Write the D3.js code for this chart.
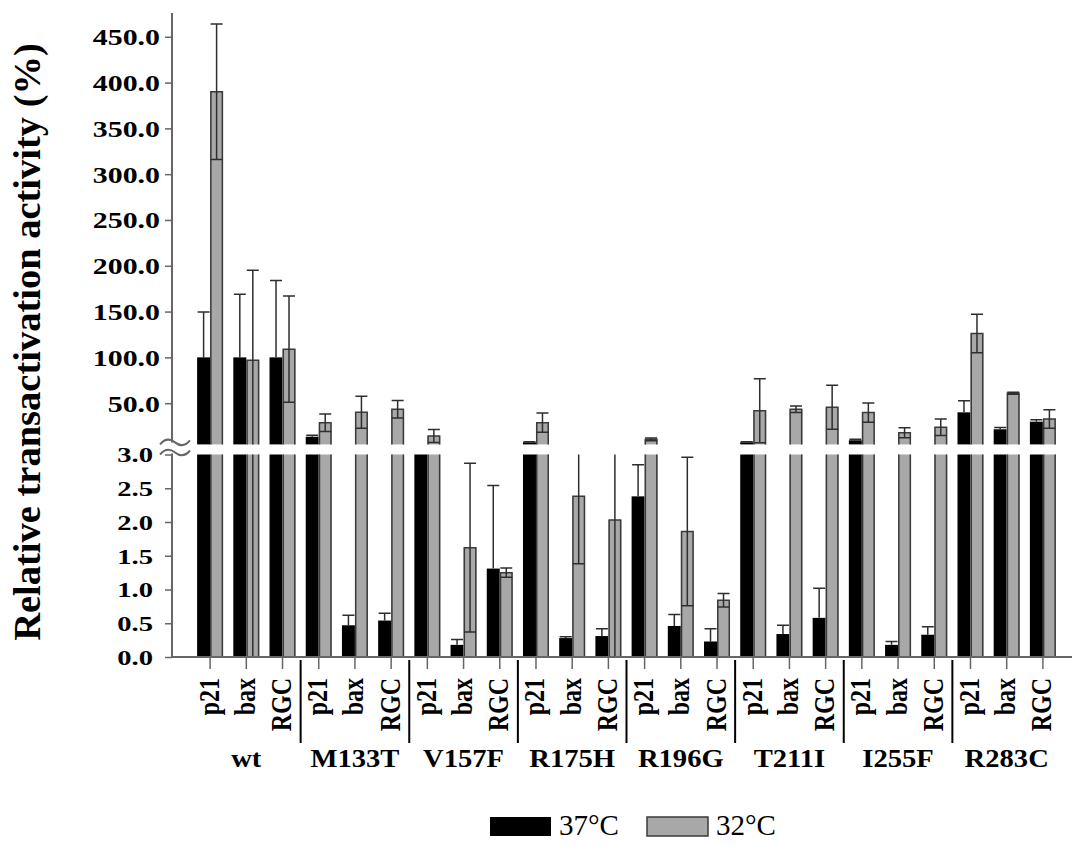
<!DOCTYPE html>
<html><head><meta charset="utf-8">
<script src="https://cdn.jsdelivr.net/npm/d3@7"></script>
<style>
body{margin:0;background:#fff}
svg{display:block}
text{font-family:"Liberation Serif","Times New Roman",serif;fill:#000}
</style>
</head><body>
<svg id="c" width="1087" height="852"></svg>
<script>
// ---------- data ----------
const groups = ["wt","M133T","V157F","R175H","R196G","T211I","I255F","R283C"];
const genes = ["p21","bax","RGC"];
const temps = ["37°C","32°C"];
// 37°C means and SD (order: group × gene)
const v37 = [100,100,100, 13.4,0.47,0.54, 4.2,0.18,1.31, 7.3,0.28,0.31, 2.38,0.46,0.23, 7.3,0.34,0.58, 9.5,0.18,0.33, 40,21.5,29.8];
const e37 = [49.6,69,84, 1.5,0.15,0.11, 0.5,0.08,1.23, 0.5,0.02,0.11, 0.47,0.17,0.19, 0.5,0.13,0.44, 1.2,0.05,0.12, 12.7,2,2];
// 32°C means and SD
const v32 = [390,97,109, 28.7,40,43.3, 14.2,1.62,1.25, 28.7,2.38,2.03, 10.6,1.86,0.84, 41.8,43.3,45.5, 39.7,17.8,23.7, 126,60.8,32.7];
const e32 = [74,98,58, 9.5,17.5,9.5, 7,1.25,0.07, 10.5,1.0,2.2, 1.5,1.1,0.1, 35,3.5,24, 10.5,5.5,9, 21,1,10];
const upperTicks = [50,100,150,200,250,300,350,400,450];
const lowerTicks = [0,0.5,1.0,1.5,2.0,2.5,3.0];
const yTitle = "Relative transactivation activity (%)";

// ---------- layout ----------
const svg = d3.select("#c");
const keys = groups.flatMap(g => genes.map(n => g + "|" + n));
const x = d3.scaleBand().domain(keys).range([192, 1061]);
const xt = d3.scaleBand().domain(temps).range([-13, 13]);
const yLow = d3.scaleLinear().domain([0, 3]).range([657, 454.5]);
const yHigh = d3.scaleLinear().domain([5, 473]).range([444.4, 15.7]);
const fill = d3.scaleOrdinal().domain(temps).range(["#000000", "#a8a8a8"]);
const edge = d3.scaleOrdinal().domain(temps).range(["#000000", "#3a3a3a"]);
const AX = 172, BASE = 657;

const rows = [];
keys.forEach((k, i) => {
  rows.push({k, t: temps[0], v: v37[i], e: e37[i]});
  rows.push({k, t: temps[1], v: v32[i], e: e32[i]});
});

const cx = d => x(d.k) + x.bandwidth() / 2 + xt(d.t) + xt.bandwidth() / 2;
const bw = xt.bandwidth();

// bars: segment pieces
const pieces = [];
rows.forEach(d => {
  const lowTop = Math.min(d.v, 3);
  pieces.push({d, y0: yLow(0), y1: yLow(lowTop), topEdge: d.v <= 3});
  if (d.v > 5) pieces.push({d, y0: yHigh(5), y1: yHigh(d.v), topEdge: true});
});

const gBars = svg.append("g");
gBars.selectAll("rect").data(pieces).join("rect")
  .attr("x", p => cx(p.d) - bw / 2)
  .attr("width", bw)
  .attr("y", p => p.y1)
  .attr("height", p => p.y0 - p.y1)
  .attr("fill", p => fill(p.d.t));
gBars.selectAll("path.edge").data(pieces.filter(p => p.d.t === temps[1])).join("path")
  .attr("class", "edge")
  .attr("d", p => {
    const l = cx(p.d) - bw / 2 + 0.75, r = cx(p.d) + bw / 2 - 0.75;
    return p.topEdge ? `M${l},${p.y0}V${p.y1}H${r}V${p.y0}` : `M${l},${p.y0}V${p.y1}M${r},${p.y0}V${p.y1}`;
  })
  .attr("fill", "none").attr("stroke", p => edge(p.d.t)).attr("stroke-width", 1.5);

// error bars, clipped to each axis segment (black bars hide the lower half)
const errs = [];
rows.forEach(d => {
  const lo = d.t === temps[0] ? d.v : d.v - d.e, hi = d.v + d.e;
  [[yLow, 0, 3], [yHigh, 5, 473]].forEach(([s, a, b]) => {
    const l = Math.max(lo, a), h = Math.min(hi, b);
    if (h > l) errs.push({d, s, l, h, capL: d.t === temps[1] && lo > a, capH: hi < b});
  });
});
const gErr = svg.append("g").attr("stroke", "#2e2e2e").attr("stroke-width", 1.5).attr("fill", "none");
gErr.selectAll("path").data(errs).join("path")
  .attr("d", q => {
    const c = cx(q.d), w = 6;
    let s = `M${c},${q.s(q.l)}V${q.s(q.h)}`;
    if (q.capH) s += `M${c - w},${q.s(q.h)}H${c + w}`;
    if (q.capL) s += `M${c - w},${q.s(q.l)}H${c + w}`;
    return s;
  });

// ---------- y axes ----------
const styleAxis = (g, fs, endX) => {
  g.select(".domain").attr("stroke", "#666").attr("stroke-width", 2);
  g.selectAll(".tick line").attr("stroke", "#666").attr("stroke-width", 1.5);
  g.selectAll(".tick text")
    .attr("x", 0).attr("dy", "0.34em")
    .attr("transform", `translate(${endX},0) scale(1.3,1)`)
    .style("font-size", fs + "px").style("font-weight", "bold")
    .attr("text-anchor", "end");
};
const gUp = svg.append("g").attr("transform", `translate(${AX},0)`)
  .call(d3.axisLeft(yHigh).tickValues(upperTicks).tickFormat(d3.format(".1f")).tickSize(7).tickSizeOuter(0));
gUp.select(".domain").attr("d", `M0,${yHigh(5) - 2}V13`);
styleAxis(gUp, 23, -12);
const gLo = svg.append("g").attr("transform", `translate(${AX},0)`)
  .call(d3.axisLeft(yLow).tickValues(lowerTicks).tickFormat(d3.format(".1f")).tickSize(7).tickSizeOuter(0));
gLo.select(".domain").attr("d", `M0,${BASE}V${yLow(3) - 1}`);
styleAxis(gLo, 22, -19);

// break marks
const brk = y => `M160,${y + 2}C165,${y - 4} 170,${y - 4} 175,${y}S185,${y + 4} 190,${y - 2}`;
svg.append("g").attr("fill", "none").attr("stroke", "#666").attr("stroke-width", 2)
  .selectAll("path").data([yHigh(5) - 2, yLow(3) - 2]).join("path").attr("d", brk);

// y title
svg.append("text")
  .attr("transform", `translate(40,${342}) rotate(-90)`)
  .attr("text-anchor", "middle")
  .style("font-size", "38.5px").style("font-weight", "bold")
  .text(yTitle);

// ---------- x axis ----------
const gX = svg.append("g").attr("transform", `translate(0,${BASE})`)
  .call(d3.axisBottom(x).tickSize(12).tickSizeOuter(0).tickFormat(k => k.split("|")[1]));
gX.select(".domain").attr("d", `M${AX},0H1072`).attr("stroke", "#666").attr("stroke-width", 2);
gX.selectAll(".tick line").attr("stroke", "#666").attr("stroke-width", 1.5);
gX.selectAll(".tick text")
  .attr("x", 0).attr("y", 0).attr("dy", "0.33em")
  .attr("text-anchor", "end")
  .attr("transform", "translate(-1,21) scale(1.2,1) rotate(-90)")
  .style("font-size", "24px").style("font-weight", "bold");

// group separators
const sepX = groups.slice(1).map(g => x(g + "|p21"));
svg.append("g").attr("stroke", "#000").attr("stroke-width", 2)
  .selectAll("line").data(sepX).join("line")
  .attr("x1", d => d).attr("x2", d => d).attr("y1", 660).attr("y2", 743);

// group labels
svg.append("g").selectAll("text").data(groups).join("text")
  .attr("transform", g => `translate(${(x(g + "|p21") + x(g + "|RGC") + x.bandwidth()) / 2},767) scale(1.1,1)`)
  .attr("text-anchor", "middle")
  .style("font-size", "26px").style("font-weight", "bold")
  .text(g => g);

// ---------- legend ----------
const lx = d3.scaleOrdinal().domain(temps).range([490, 647]);
const lg = svg.append("g").selectAll("g").data(temps).join("g")
  .attr("transform", t => `translate(${lx(t)},817)`);
lg.append("rect").attr("width", 61).attr("height", 19)
  .attr("fill", t => fill(t)).attr("stroke", t => t === temps[1] ? "#3a3a3a" : "none").attr("stroke-width", 1.5);
lg.append("text").attr("x", 69).attr("y", 18)
  .style("font-size", "29px")
  .text(t => t);
</script>
</body></html>
